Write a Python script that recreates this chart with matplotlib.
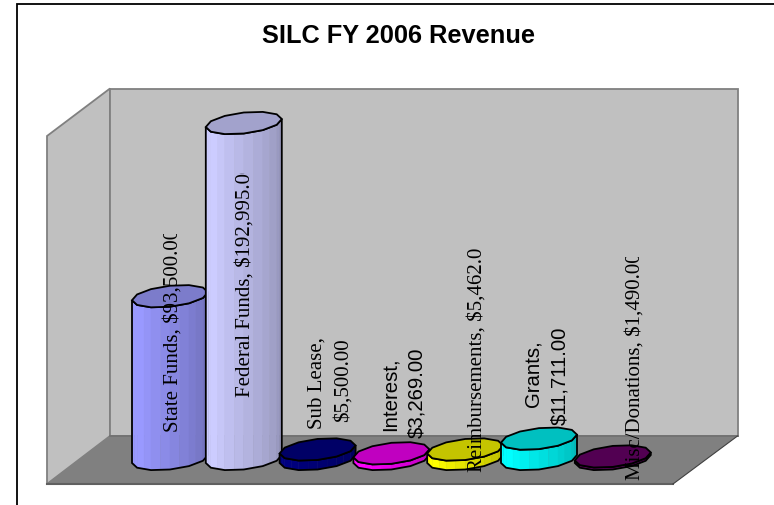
import matplotlib
matplotlib.use("Agg")
import matplotlib.pyplot as plt
import numpy as np
from matplotlib.patches import Polygon
from matplotlib.transforms import Bbox

title = "SILC FY 2006 Revenue"
categories = ["State Funds", "Federal Funds", "Sub Lease", "Interest",
              "Reimbursements", "Grants", "Misc/Donations"]
values = [93500, 192995, 5500, 3269, 5462, 11711, 1490]
side_colors = ["#9999FF", "#CCCCFF", "#000080", "#FF00FF", "#FFFF00", "#00FFFF", "#660066"]
top_colors = ["#7C7CCB", "#A2A2CC", "#000066", "#C000C0", "#C4C400", "#00C0C0", "#520052"]

# label layout: list of (line, x, bottom y, font), plus clip top of the label
label_lines = [
    [("State Funds, $93,500.00", 173, 432, "Liberation Serif")],
    [("Federal Funds, $192,995.00", 245, 397, "Liberation Serif")],
    [("Sub Lease,", 317, 429, "Liberation Serif"), ("$5,500.00", 343, 422, "Liberation Serif")],
    [("Interest,", 390, 431, "Liberation Sans"), ("$3,269.00", 417, 438, "Liberation Sans")],
    [("Reimbursements, $5,462.00", 477, 472, "Liberation Serif")],
    [("Grants,", 533, 407, "Liberation Sans"), ("$11,711.00", 560, 425, "Liberation Sans")],
    [("Misc/Donations, $1,490.00", 635, 480, "Liberation Serif")],
]
label_clip = [235, 174, 0, 0, 249, 0, 258]

first_x = 170
step_x = 73.8
base_y = 460
px_per_dollar = 336 / 192995
a, b, s = 38, 10.5, 4
n_sides = 12

fig = plt.figure(figsize=(7.74, 5.06), dpi=100)
ax = fig.add_axes([0, 0, 1, 1])
ax.set_xlim(0, 774)
ax.set_ylim(506, 0)
ax.axis("off")

# chart border, only top and left show
ax.plot([17, 17, 774], [506, 5, 5], color="black", lw=1.3, solid_joinstyle="miter")

# walls and floor
ax.add_patch(Polygon([(47, 137), (110, 89.5), (110, 437), (47, 485)], fc="#C0C0C0", ec="#808080", lw=1.3))
ax.add_patch(Polygon([(110, 89.5), (737.5, 89.5), (737.5, 437), (110, 437)], fc="#C0C0C0", ec="#808080", lw=1.3))
ax.add_patch(Polygon([(110, 437), (737.5, 437), (673, 485), (47, 485)], fc="#808080", ec="none"))
ax.plot([110, 737.5], [437, 437], color="#707070", lw=1.2)
ax.plot([47, 673], [485, 485], color="#606060", lw=1.5)
ax.plot([673, 737.5], [485, 437], color="#404040", lw=0.8)


def ring(cx, cy, t):
    return cx + a * np.cos(t), cy + b * np.sin(t) - s * np.cos(t)


angles = np.linspace(np.pi, 0, n_sides // 2 + 1)  # front half, left to right
all_angles = np.linspace(0, 2 * np.pi, n_sides, endpoint=False)
n_strips = 2 * (len(angles) - 1)

for i, val in enumerate(values):
    cx = first_x + i * step_x
    top_y = base_y - val * px_per_dollar
    z = 3 + i
    rgb = np.array(matplotlib.colors.to_rgb(side_colors[i]))
    bx, by = ring(cx, base_y, angles)
    tx, ty = ring(cx, top_y, angles)
    # side strips, each facet split in two, darker to the right
    pos = np.arange(n_strips + 1) / 2
    sx = np.interp(pos, np.arange(len(bx)), bx)
    sb = np.interp(pos, np.arange(len(bx)), by)
    st = np.interp(pos, np.arange(len(bx)), ty)
    for j in range(n_strips):
        shade = 1.0 - 0.28 * max(0, j - 2) / (n_strips - 3)
        ax.add_patch(Polygon([(sx[j], sb[j]), (sx[j + 1], sb[j + 1]), (sx[j + 1], st[j + 1]), (sx[j], st[j])],
                             fc=rgb * shade, ec=rgb * shade, lw=0.3, zorder=z))
    # outline of the body
    ax.add_patch(Polygon(np.column_stack([np.r_[bx, tx[::-1]], np.r_[by, ty[::-1]]]),
                         fc="none", ec="black", lw=1.3, zorder=z))
    # top cap
    ux, uy = ring(cx, top_y, all_angles)
    ax.add_patch(Polygon(np.column_stack([ux, uy]), fc=top_colors[i], ec="black", lw=1.3, zorder=z))

# data labels, some are cut off like in the original
for lines, clip_top in zip(label_lines, label_clip):
    for line, x, y, font in lines:
        size = 14.7 if font == "Liberation Sans" else 15
        t = ax.text(x, y, line, rotation=90, ha="center", va="bottom", fontsize=size,
                    family=font, color="black", zorder=20)
        if clip_top:
            t.set_clip_box(Bbox([[0, 0], [774, 506 - clip_top]]))
            t.set_clip_on(True)

ax.text(399, 36, title, ha="center", va="center", fontsize=18.3, fontweight="bold",
        family="Liberation Sans", color="black")

fig.savefig("out.png", dpi=100)
